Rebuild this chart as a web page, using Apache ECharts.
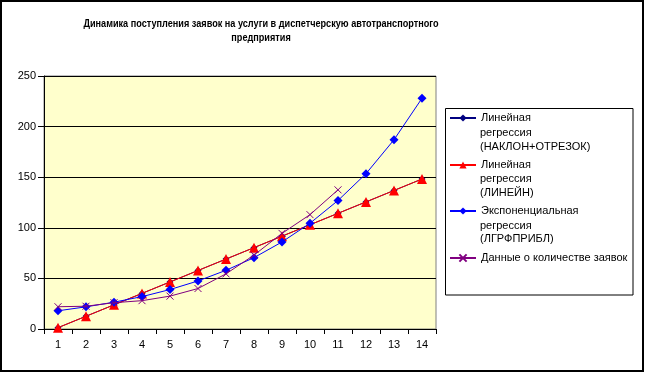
<!DOCTYPE html>
<html>
<head>
<meta charset="utf-8">
<script src="https://cdn.jsdelivr.net/npm/echarts@6/dist/echarts.min.js"></script>
<style>
html,body{margin:0;padding:0;background:#fff;}
#c{width:645px;height:373px;}
</style>
</head>
<body>
<div id="c"></div>
<script>
var categories = ['1','2','3','4','5','6','7','8','9','10','11','12','13','14'];
var linSlopeIntercept = [1.3, 12.6, 23.9, 35.2, 46.5, 57.8, 69.1, 80.4, 91.7, 103.0, 114.3, 125.6, 136.9, 148.2];
var linLinest = [1.3, 12.6, 23.9, 35.2, 46.5, 57.8, 69.1, 80.4, 91.7, 103.0, 114.3, 125.6, 136.9, 148.2];
var expLogest = [18, 21.9, 26.5, 32, 39, 47.5, 58, 70.5, 86, 104.5, 127, 153.5, 187, 228];
var requests = [22, 22.5, 26, 28, 32.5, 40, 54.5, 73, 94.5, 113, 137.5];
var yTicks = {min: 0, max: 250, interval: 50};

var names = [
  'Линейная\nрегрессия\n(НАКЛОН+ОТРЕЗОК)',
  'Линейная\nрегрессия\n(ЛИНЕЙН)',
  'Экспоненциальная\nрегрессия\n(ЛГРФПРИБЛ)',
  'Данные о количестве заявок'
];
var titleText = 'Динамика поступления заявок на услуги в диспетчерскую автотранспортного\nпредприятия';

var FONT = '"Liberation Sans", Arial, sans-serif';
var xPath = 'path://M0,0L10,10M10,0L0,10';

var chart = echarts.init(document.getElementById('c'), null, {renderer: 'canvas'});

function legendFor(i, top) {
  return {
    show: true, orient: 'vertical', left: 449, top: top, padding: 0,
    itemWidth: 26, itemHeight: 9, itemGap: 0,
    data: [names[i]],
    formatter: function (n) { return n.split('\n')[0]; },
    textStyle: {fontFamily: FONT, fontSize: 11, color: '#000', lineHeight: 14}
  };
}

var extraLines = [
  ['регрессия', 480, 133.3], ['(НАКЛОН+ОТРЕЗОК)', 480, 146.7],
  ['регрессия', 480, 179.3], ['(ЛИНЕЙН)', 480, 193.3],
  ['регрессия', 480, 225.7], ['(ЛГРФПРИБЛ)', 480, 239]
];

var graphics = [
  {type: 'rect', shape: {x: 1, y: 1, width: 642, height: 370}, style: {fill: 'none', stroke: '#000', lineWidth: 2}, silent: true, z: 100},
  {type: 'rect', shape: {x: 445.5, y: 108.5, width: 187.5, height: 186.5}, style: {fill: '#fff', stroke: '#000', lineWidth: 1}, silent: true, z: -1},
  {type: 'text', x: 261, y: 24, scaleX: 0.83, style: {text: titleText.split('\n')[0], font: 'bold 11px ' + FONT, fill: '#000', align: 'center', verticalAlign: 'middle'}},
  {type: 'text', x: 261, y: 38, scaleX: 0.83, style: {text: titleText.split('\n')[1], font: 'bold 11px ' + FONT, fill: '#000', align: 'center', verticalAlign: 'middle'}}
];
extraLines.forEach(function (l) {
  graphics.push({type: 'text', x: l[1], y: l[2], style: {text: l[0], font: '11px ' + FONT, fill: '#000', align: 'left', verticalAlign: 'middle'}});
});

var option = {
  animation: false,
  backgroundColor: '#fff',
  textStyle: {fontFamily: FONT},
  grid: {left: 44, right: 209, top: 76, bottom: 44, show: true, backgroundColor: '#FFFFCC', borderColor: '#808080', borderWidth: 1},
  legend: [legendFor(0, 111), legendFor(1, 158), legendFor(2, 204), legendFor(3, 251)],
  xAxis: {
    type: 'category', data: categories, boundaryGap: true,
    axisLine: {lineStyle: {color: '#000', width: 1}},
    axisTick: {show: true, interval: 0, length: 5, lineStyle: {color: '#000'}},
    axisLabel: {color: '#000', fontSize: 11, fontFamily: FONT, margin: 10, interval: 0}
  },
  yAxis: {
    type: 'value', min: yTicks.min, max: yTicks.max, interval: yTicks.interval,
    axisLine: {show: true, lineStyle: {color: '#000', width: 1}},
    axisTick: {show: true, length: 6, lineStyle: {color: '#000'}},
    axisLabel: {color: '#000', fontSize: 11, fontFamily: FONT, margin: 8},
    splitLine: {show: true, lineStyle: {color: '#000', width: 1}}
  },
  series: [
    {name: names[0], type: 'line', data: linSlopeIntercept, symbol: 'diamond', symbolSize: 7,
      lineStyle: {color: '#000080', width: 1}, itemStyle: {color: '#000080'}, z: 2},
    {name: names[1], type: 'line', data: linLinest, symbol: 'triangle', symbolSize: 10,
      lineStyle: {color: '#FF0000', width: 1}, itemStyle: {color: '#FF0000'}, z: 3},
    {name: names[2], type: 'line', data: expLogest, symbol: 'diamond', symbolSize: 9,
      lineStyle: {color: '#0000FF', width: 1}, itemStyle: {color: '#0000FF'}, z: 4},
    {name: names[3], type: 'line', data: requests, symbol: xPath, symbolSize: 7,
      lineStyle: {color: '#800080', width: 1}, itemStyle: {color: '#800080', borderColor: '#800080', borderWidth: 1}, z: 5}
  ],
  graphic: graphics
};
chart.setOption(option);
</script>
</body>
</html>
